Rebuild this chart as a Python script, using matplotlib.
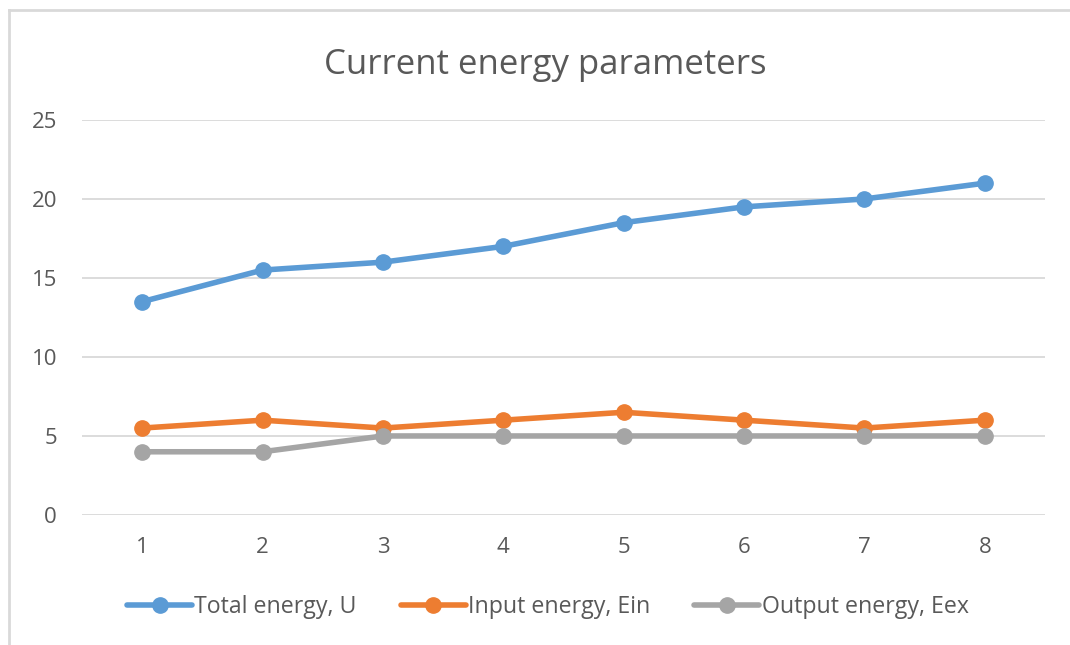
import matplotlib.pyplot as plt
from matplotlib.lines import Line2D

plt.rcParams['font.family'] = ['Open Sans', 'DejaVu Sans']

x = [1, 2, 3, 4, 5, 6, 7, 8]
total_u = [13.5, 15.5, 16, 17, 18.5, 19.5, 20, 21]
input_ein = [5.5, 6, 5.5, 6, 6.5, 6, 5.5, 6]
output_eex = [4, 4, 5, 5, 5, 5, 5, 5]
labels = ['Total energy, U', 'Input energy, Ein', 'Output energy, Eex']
colors = ['#5B9BD5', '#ED7D31', '#A5A5A5']

fig = plt.figure(figsize=(10.7, 6.45), dpi=100)
ax = fig.add_axes([0.0766, 0.2016, 0.9, 0.6124])

for ys, c, lab in zip([total_u, input_ein, output_eex], colors, labels):
    ax.plot(x, ys, color=c, lw=4, marker='o', ms=11, label=lab,
            solid_capstyle='round', zorder=3)

ax.set_xlim(0.5, 8.5)
ax.set_ylim(0, 25)
ax.set_yticks([0, 5, 10, 15, 20, 25])
ax.set_xticks(x)
ax.grid(axis='y', color='#D9D9D9', lw=1.3, zorder=0)
for s in ax.spines.values():
    s.set_visible(False)
ax.tick_params(length=0, labelsize=16, labelcolor='#595959')
ax.tick_params(axis='x', pad=16)
ax.tick_params(axis='y', pad=18)

fig.text(0.51, 0.899, 'Current energy parameters', ha='center', va='center',
         fontsize=25, color='#595959')

fig.legend(loc='center', bbox_to_anchor=(0.512, 0.059), ncol=3, frameon=False,
           fontsize=16.7, handlelength=2.8, handletextpad=0.1, columnspacing=1.9,
           labelcolor='#595959')

# chart frame (left and top edges visible)
fig.add_artist(Line2D([9 / 1070, 9 / 1070], [0, 1 - 10 / 645], color='#D9D9D9', lw=2))
fig.add_artist(Line2D([9 / 1070, 1], [1 - 10 / 645, 1 - 10 / 645], color='#D9D9D9', lw=2))

fig.savefig('out.png', dpi=100, facecolor='white')
